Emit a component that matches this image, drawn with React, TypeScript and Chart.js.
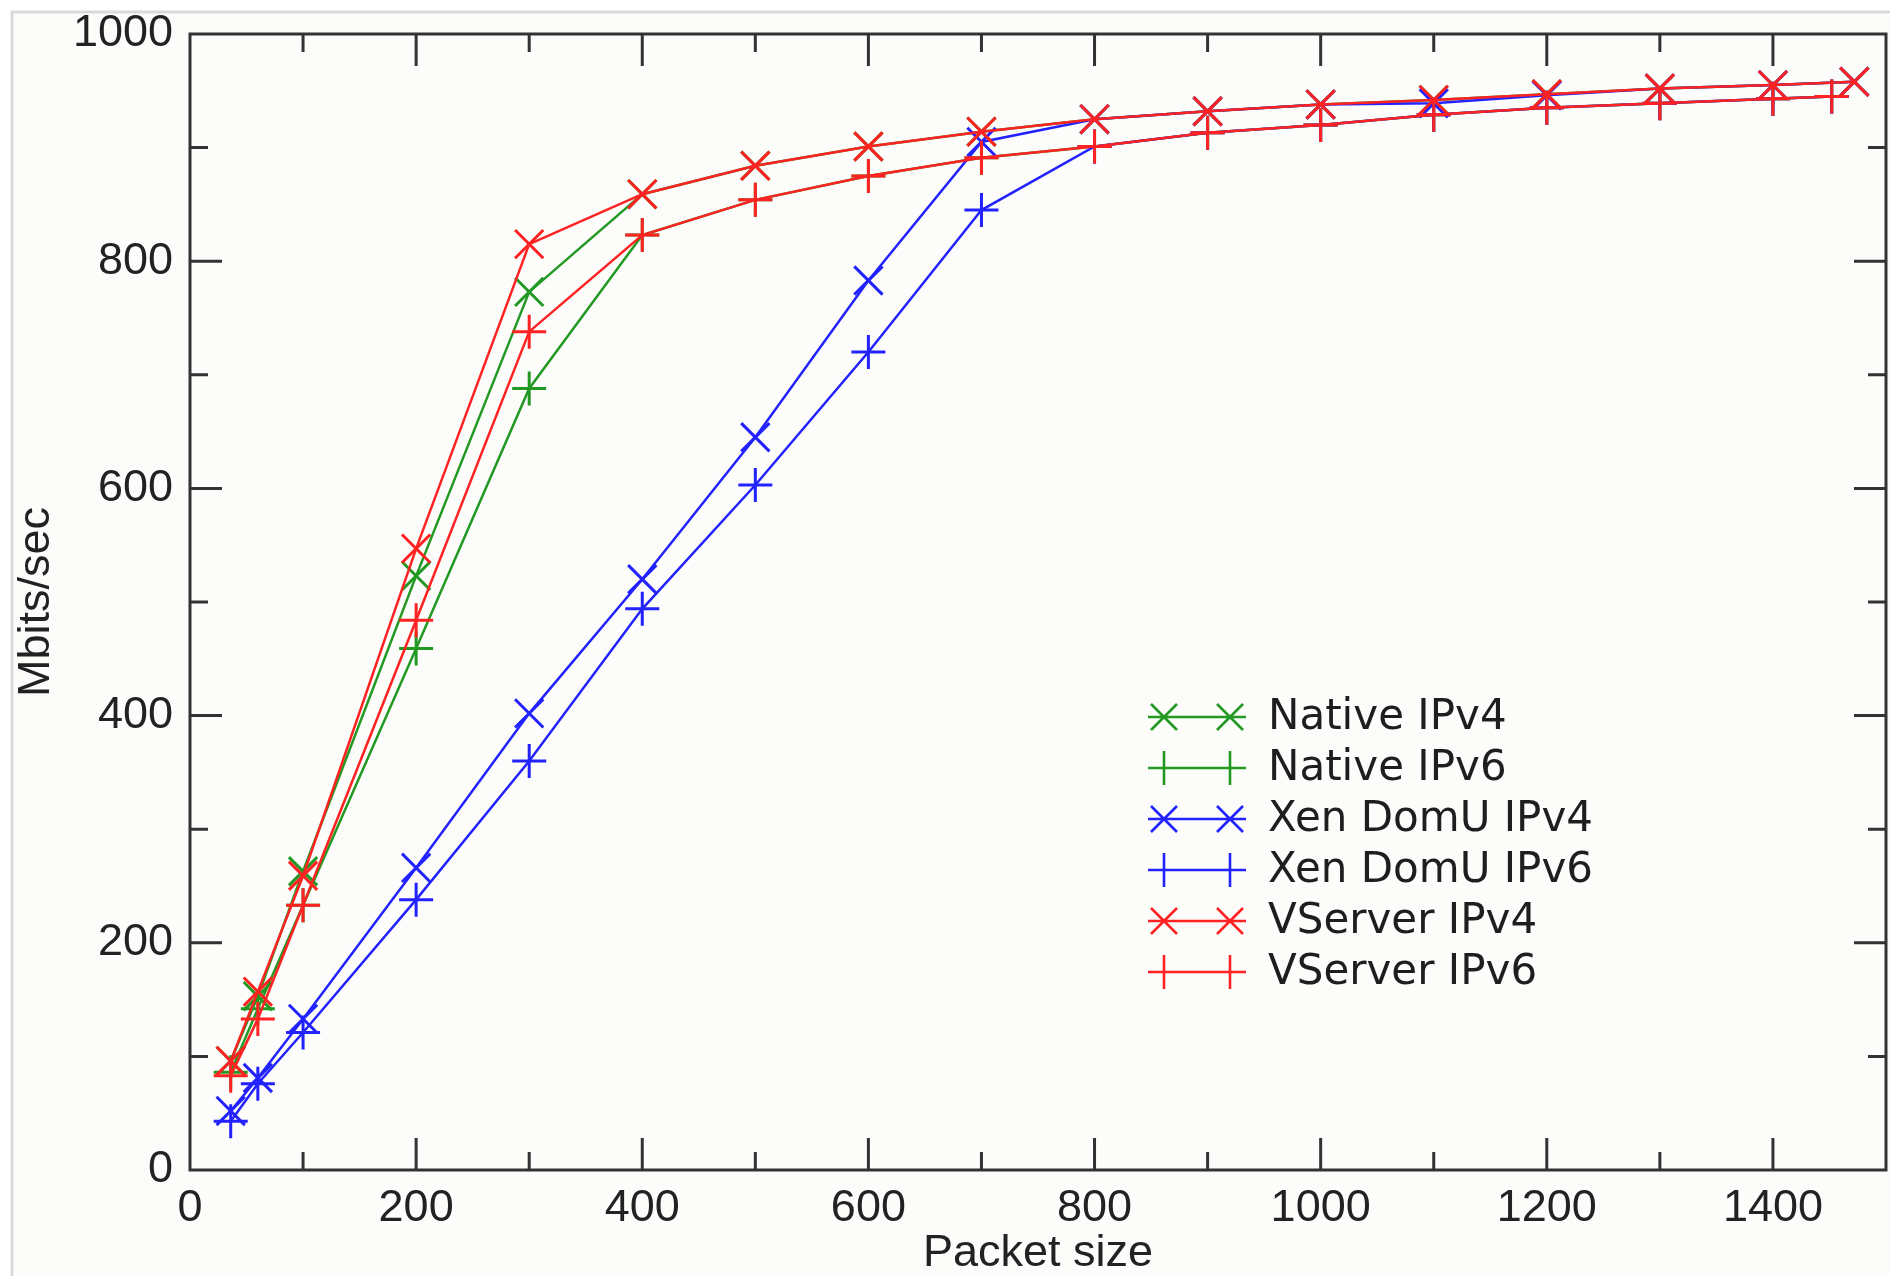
import React, { useEffect, useRef } from 'react';
import { Chart, registerables } from 'chart.js';

Chart.register(...registerables);

// Packet sizes
const xIPv4 = [36, 60, 100, 200, 300, 400, 500, 600, 700, 800, 900, 1000, 1100, 1200, 1300, 1400, 1472];
const xIPv6 = [36, 60, 100, 200, 300, 400, 500, 600, 700, 800, 900, 1000, 1100, 1200, 1300, 1400, 1452];

// Throughput (Mbits/sec)
const nativeIPv4 = [96, 153, 263, 523, 773, 859, 884, 901, 914, 925, 932, 938, 942, 947, 952, 955, 958];
const nativeIPv6 = [86, 142, 233, 459, 688, 823, 854, 875, 891, 901, 913, 920, 929, 935, 939, 943, 945];
const xenIPv4 = [52, 81, 133, 266, 402, 520, 645, 783, 905, 925, 932, 938, 939, 946, 952, 955, 958];
const xenIPv6 = [43, 76, 121, 238, 360, 494, 603, 720, 845, 901, 913, 920, 929, 935, 939, 943, 945];
const vserverIPv4 = [96, 157, 259, 547, 815, 859, 884, 901, 914, 925, 932, 938, 942, 947, 952, 955, 958];
const vserverIPv6 = [83, 133, 233, 484, 738, 823, 854, 875, 891, 901, 913, 920, 929, 935, 939, 943, 945];

const seriesNames = ['Native IPv4', 'Native IPv6', 'Xen DomU IPv4', 'Xen DomU IPv6', 'VServer IPv4', 'VServer IPv6'];

const yTickValues = [0, 200, 400, 600, 800, 1000];
const xTickValues = [0, 200, 400, 600, 800, 1000, 1200, 1400];

const GREEN = '#229922';
const BLUE = '#2222ff';
const RED = '#ff2222';

const toPoints = (xs: number[], ys: number[]) => xs.map((x, i) => ({ x, y: ys[i] }));

const framePlugin = {
  id: 'frameTicks',
  beforeDraw(chart: any) {
    const { ctx, width, height } = chart;
    ctx.save();
    ctx.fillStyle = '#ffffff';
    ctx.fillRect(0, 0, width, height);
    ctx.fillStyle = '#fcfcfa';
    ctx.fillRect(12, 12, width - 12, height - 12);
    ctx.strokeStyle = '#dadada';
    ctx.lineWidth = 3;
    ctx.beginPath();
    ctx.moveTo(12, height);
    ctx.lineTo(12, 12);
    ctx.lineTo(width, 12);
    ctx.stroke();
    ctx.restore();
  },
  beforeDatasetsDraw(chart: any) {
    const { ctx, chartArea: a, scales } = chart;
    const xs = scales.x;
    const ys = scales.y;
    ctx.save();
    ctx.strokeStyle = '#333333';
    ctx.lineWidth = 3;
    ctx.lineCap = 'butt';
    ctx.strokeRect(a.left, a.top, a.right - a.left, a.bottom - a.top);
    ctx.beginPath();
    for (let v = 100; v < 1500; v += 100) {
      const px = xs.getPixelForValue(v);
      const len = v % 200 === 0 ? 32 : 18;
      ctx.moveTo(px, a.bottom);
      ctx.lineTo(px, a.bottom - len);
      ctx.moveTo(px, a.top);
      ctx.lineTo(px, a.top + len);
    }
    for (let v = 100; v < 1000; v += 100) {
      const py = ys.getPixelForValue(v);
      const len = v % 200 === 0 ? 32 : 18;
      ctx.moveTo(a.left, py);
      ctx.lineTo(a.left + len, py);
      ctx.moveTo(a.right, py);
      ctx.lineTo(a.right - len, py);
    }
    ctx.stroke();
    ctx.restore();
  },
};

const legendPlugin = {
  id: 'lineLegend',
  afterDatasetsDraw(chart: any) {
    const { ctx } = chart;
    const rowTop = 717;
    const rowGap = 51;
    const lineL = 1148;
    const lineR = 1246;
    const m1 = 1164;
    const m2 = 1230;
    const textX = 1268;
    ctx.save();
    chart.data.datasets.forEach((ds: any, i: number) => {
      const y = rowTop + i * rowGap;
      ctx.strokeStyle = ds.borderColor;
      ctx.lineWidth = 2.6;
      ctx.beginPath();
      ctx.moveTo(lineL, y);
      ctx.lineTo(lineR, y);
      for (const mx of [m1, m2]) {
        if (ds.pointStyle === 'crossRot') {
          const h = 13;
          ctx.moveTo(mx - h, y - h);
          ctx.lineTo(mx + h, y + h);
          ctx.moveTo(mx - h, y + h);
          ctx.lineTo(mx + h, y - h);
        } else {
          const h = 17;
          ctx.moveTo(mx, y - h);
          ctx.lineTo(mx, y + h);
        }
      }
      ctx.stroke();
      ctx.fillStyle = '#1e1e1e';
      ctx.font = '42px "DejaVu Sans"';
      ctx.textBaseline = 'middle';
      ctx.textAlign = 'left';
      ctx.fillText(ds.label, textX, y + 1);
    });
    ctx.restore();
  },
};

const noPad = (scale: any) => {
  scale.paddingLeft = 0;
  scale.paddingRight = 0;
  scale.paddingTop = 0;
  scale.paddingBottom = 0;
};

export default function App() {
  const ref = useRef<HTMLCanvasElement | null>(null);

  useEffect(() => {
    if (!ref.current) return;
    const mk = (i: number, xs: number[], ys: number[], color: string, style: string, order: number) => ({
      label: seriesNames[i],
      data: toPoints(xs, ys),
      borderColor: color,
      backgroundColor: color,
      borderWidth: 2.5,
      pointStyle: style,
      pointRadius: style === 'crossRot' ? 20 : 17,
      pointHoverRadius: style === 'crossRot' ? 20 : 17,
      pointBorderWidth: 3,
      pointBorderColor: color,
      showLine: true,
      tension: 0,
      order,
    });

    const chart = new Chart(ref.current, {
      type: 'scatter',
      data: {
        datasets: [
          mk(0, xIPv4, nativeIPv4, GREEN, 'crossRot', 6),
          mk(1, xIPv6, nativeIPv6, GREEN, 'cross', 5),
          mk(2, xIPv4, xenIPv4, BLUE, 'crossRot', 4),
          mk(3, xIPv6, xenIPv6, BLUE, 'cross', 3),
          mk(4, xIPv4, vserverIPv4, RED, 'crossRot', 2),
          mk(5, xIPv6, vserverIPv6, RED, 'cross', 1),
        ] as any,
      },
      options: {
        responsive: false,
        animation: false,
        devicePixelRatio: 1,
        layout: { autoPadding: false, padding: { top: 34, right: 4, left: 0, bottom: 0 } },
        plugins: {
          legend: { display: false },
          tooltip: { enabled: false },
        },
        scales: {
          x: {
            type: 'linear',
            min: 0,
            max: 1500,
            afterBuildTicks: (scale: any) => {
              scale.ticks = xTickValues.map((v) => ({ value: v }));
            },
            afterFit: (scale: any) => {
              scale.height = 106;
              noPad(scale);
            },
            grid: { display: false },
            border: { display: false },
            ticks: {
              padding: 4,
              color: '#222',
              font: { family: '"Liberation Sans"', size: 45 },
              maxRotation: 0,
              autoSkip: false,
              callback: (v: any) => String(v),
            },
            title: {
              display: true,
              text: 'Packet size',
              color: '#222',
              font: { family: '"Liberation Sans"', size: 45, lineHeight: 1 },
              padding: { top: 0, bottom: 0 },
            },
          },
          y: {
            type: 'linear',
            min: 0,
            max: 1000,
            afterBuildTicks: (scale: any) => {
              scale.ticks = yTickValues.map((v) => ({ value: v }));
            },
            afterFit: (scale: any) => {
              scale.width = 190;
              noPad(scale);
            },
            grid: { display: false },
            border: { display: false },
            ticks: {
              padding: 9,
              color: '#222',
              font: { family: '"Liberation Sans"', size: 45 },
              autoSkip: false,
              callback: (v: any) => String(v),
            },
            title: {
              display: true,
              text: 'Mbits/sec',
              color: '#222',
              font: { family: '"Liberation Sans"', size: 45, lineHeight: 1 },
              padding: { top: 14, bottom: 0 },
            },
          },
        },
      } as any,
      plugins: [framePlugin, legendPlugin],
    });
    return () => chart.destroy();
  }, []);

  return (
    <div style={{ position: 'absolute', left: 0, top: 0, width: 1890, height: 1276 }}>
      <canvas ref={ref} width={1890} height={1276} style={{ display: 'block' }} />
    </div>
  );
}
